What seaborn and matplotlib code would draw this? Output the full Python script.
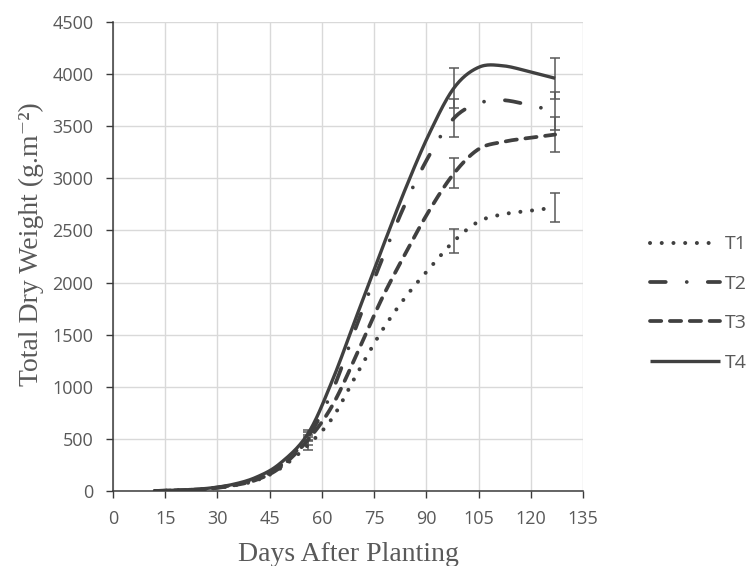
import numpy as np
import pandas as pd
import matplotlib
matplotlib.use("Agg")
import matplotlib.pyplot as plt
import seaborn as sns

# Sampling days (days after planting)
days = [12, 20, 27, 34, 41, 48, 56, 63, 70, 77, 84, 91, 98, 105, 112, 120, 127]

# Total dry weight (g m^-2) per treatment
t1 = [0, 8, 20, 50, 100, 215, 440, 700, 1120, 1525, 1860, 2140, 2400, 2585, 2655, 2690, 2720]
t2 = [0, 8, 22, 55, 115, 240, 520, 960, 1590, 2200, 2760, 3230, 3580, 3720, 3750, 3700, 3645]
t3 = [0, 8, 20, 50, 105, 225, 490, 820, 1310, 1830, 2280, 2700, 3050, 3280, 3350, 3390, 3420]
t4 = [0, 10, 25, 60, 130, 265, 550, 1060, 1680, 2300, 2900, 3440, 3870, 4065, 4080, 4020, 3960]

treatments = ["T1", "T2", "T3", "T4"]
series = {"T1": t1, "T2": t2, "T3": t3, "T4": t4}

# Standard errors at the days where they were measured
err_days = [56, 98, 127]
err_t1 = [47, 117, 136]
err_t2 = [45, 180, 185]
err_t3 = [48, 146, 170]
err_t4 = [35, 192, 195]
errors = {"T1": err_t1, "T2": err_t2, "T3": err_t3, "T4": err_t4}

x_ticks = list(range(0, 136, 15))
y_ticks = list(range(0, 4501, 500))


def smooth_curve(x, y, n=24):
    """Cubic Bezier smoothing through every point (spreadsheet-style smoothed line)."""
    pts = np.column_stack([x, y]).astype(float)
    padded = np.vstack([pts[0], pts, pts[-1]])
    pieces = []
    for i in range(len(pts) - 1):
        p0, p1, p2, p3 = padded[i], padded[i + 1], padded[i + 2], padded[i + 3]
        c1 = p1 + (p2 - p0) / 6.0
        c2 = p2 - (p3 - p1) / 6.0
        t = np.linspace(0, 1, n, endpoint=(i == len(pts) - 2))[:, None]
        b = (1 - t) ** 3 * p1 + 3 * (1 - t) ** 2 * t * c1 + 3 * (1 - t) * t ** 2 * c2 + t ** 3 * p2
        pieces.append(b)
    out = np.vstack(pieces)
    return out[:, 0], out[:, 1]


rows = []
for name in treatments:
    sx, sy = smooth_curve(days, series[name])
    rows.append(pd.DataFrame({"day": sx, "weight": sy, "treatment": name}))
curves = pd.concat(rows, ignore_index=True)

sns.set_theme(style="white")
plt.rcParams["font.family"] = ["Open Sans", "DejaVu Sans"]

line_color = "#404040"
text_color = "#595959"
grid_color = "#d9d9d9"

# line style and width per treatment (dash lengths are in multiples of line width)
styles = {
    "T1": ((0, (0.01, 2.9)), 2.9),
    "T2": ((0, (4.2, 5.6, 0.01, 5.6)), 2.7),
    "T3": ((0, (3.0, 2.3)), 2.7),
    "T4": ("-", 2.4),
}

fig = plt.figure(figsize=(7.51, 5.66), dpi=100)
ax = fig.add_axes([113 / 751, 75 / 566, 470 / 751, 469 / 566])

# error bars
for name in treatments:
    centers = [series[name][days.index(d)] for d in err_days]
    ax.errorbar(err_days, centers, yerr=errors[name], fmt="none", ecolor=text_color,
                elinewidth=1.1, capsize=3.8, capthick=1.1, zorder=2)

for name in treatments:
    sub = curves[curves["treatment"] == name]
    ls, lw = styles[name]
    sns.lineplot(data=sub, x="day", y="weight", ax=ax, color=line_color, linewidth=lw,
                 linestyle=ls, dash_capstyle="round", solid_capstyle="butt",
                 estimator=None, sort=False, label=name, zorder=3)

ax.set_xlim(0, 135)
ax.set_ylim(0, 4500)
ax.set_xticks(x_ticks)
ax.set_yticks(y_ticks)
ax.grid(True, color=grid_color, linewidth=1.0)
ax.set_axisbelow(True)

for side in ["top", "right"]:
    ax.spines[side].set_visible(False)
for side in ["left", "bottom"]:
    ax.spines[side].set_color("#3a3a3a")
    ax.spines[side].set_linewidth(1.1)
    ax.spines[side].set_zorder(4)

ax.tick_params(axis="both", which="major", direction="out", length=5, width=1,
               color="#3a3a3a", labelcolor=text_color, labelsize=13, pad=9,
               left=True, bottom=True)

label_font = {"family": ["Liberation Serif", "DejaVu Serif"], "size": 20, "color": text_color}
ax.set_xlabel("Days After Planting", fontdict=label_font, va="center")
ax.set_ylabel("Total Dry Weight (g.m⁻²)", fontdict=label_font, va="center")
ax.xaxis.set_label_coords(0.5, -0.136)
ax.yaxis.set_label_coords(-0.174, 0.527)

handles, labels = ax.get_legend_handles_labels()
leg = ax.legend(handles, labels, loc="center left", bbox_to_anchor=(650 / 751, 1 - 303.5 / 566),
                bbox_transform=fig.transFigure, frameon=False, fontsize=14,
                handlelength=3.6, handletextpad=0.25, labelspacing=1.1,
                borderpad=0, borderaxespad=0)
for txt in leg.get_texts():
    txt.set_color(text_color)

fig.savefig("out.png", dpi=100)
